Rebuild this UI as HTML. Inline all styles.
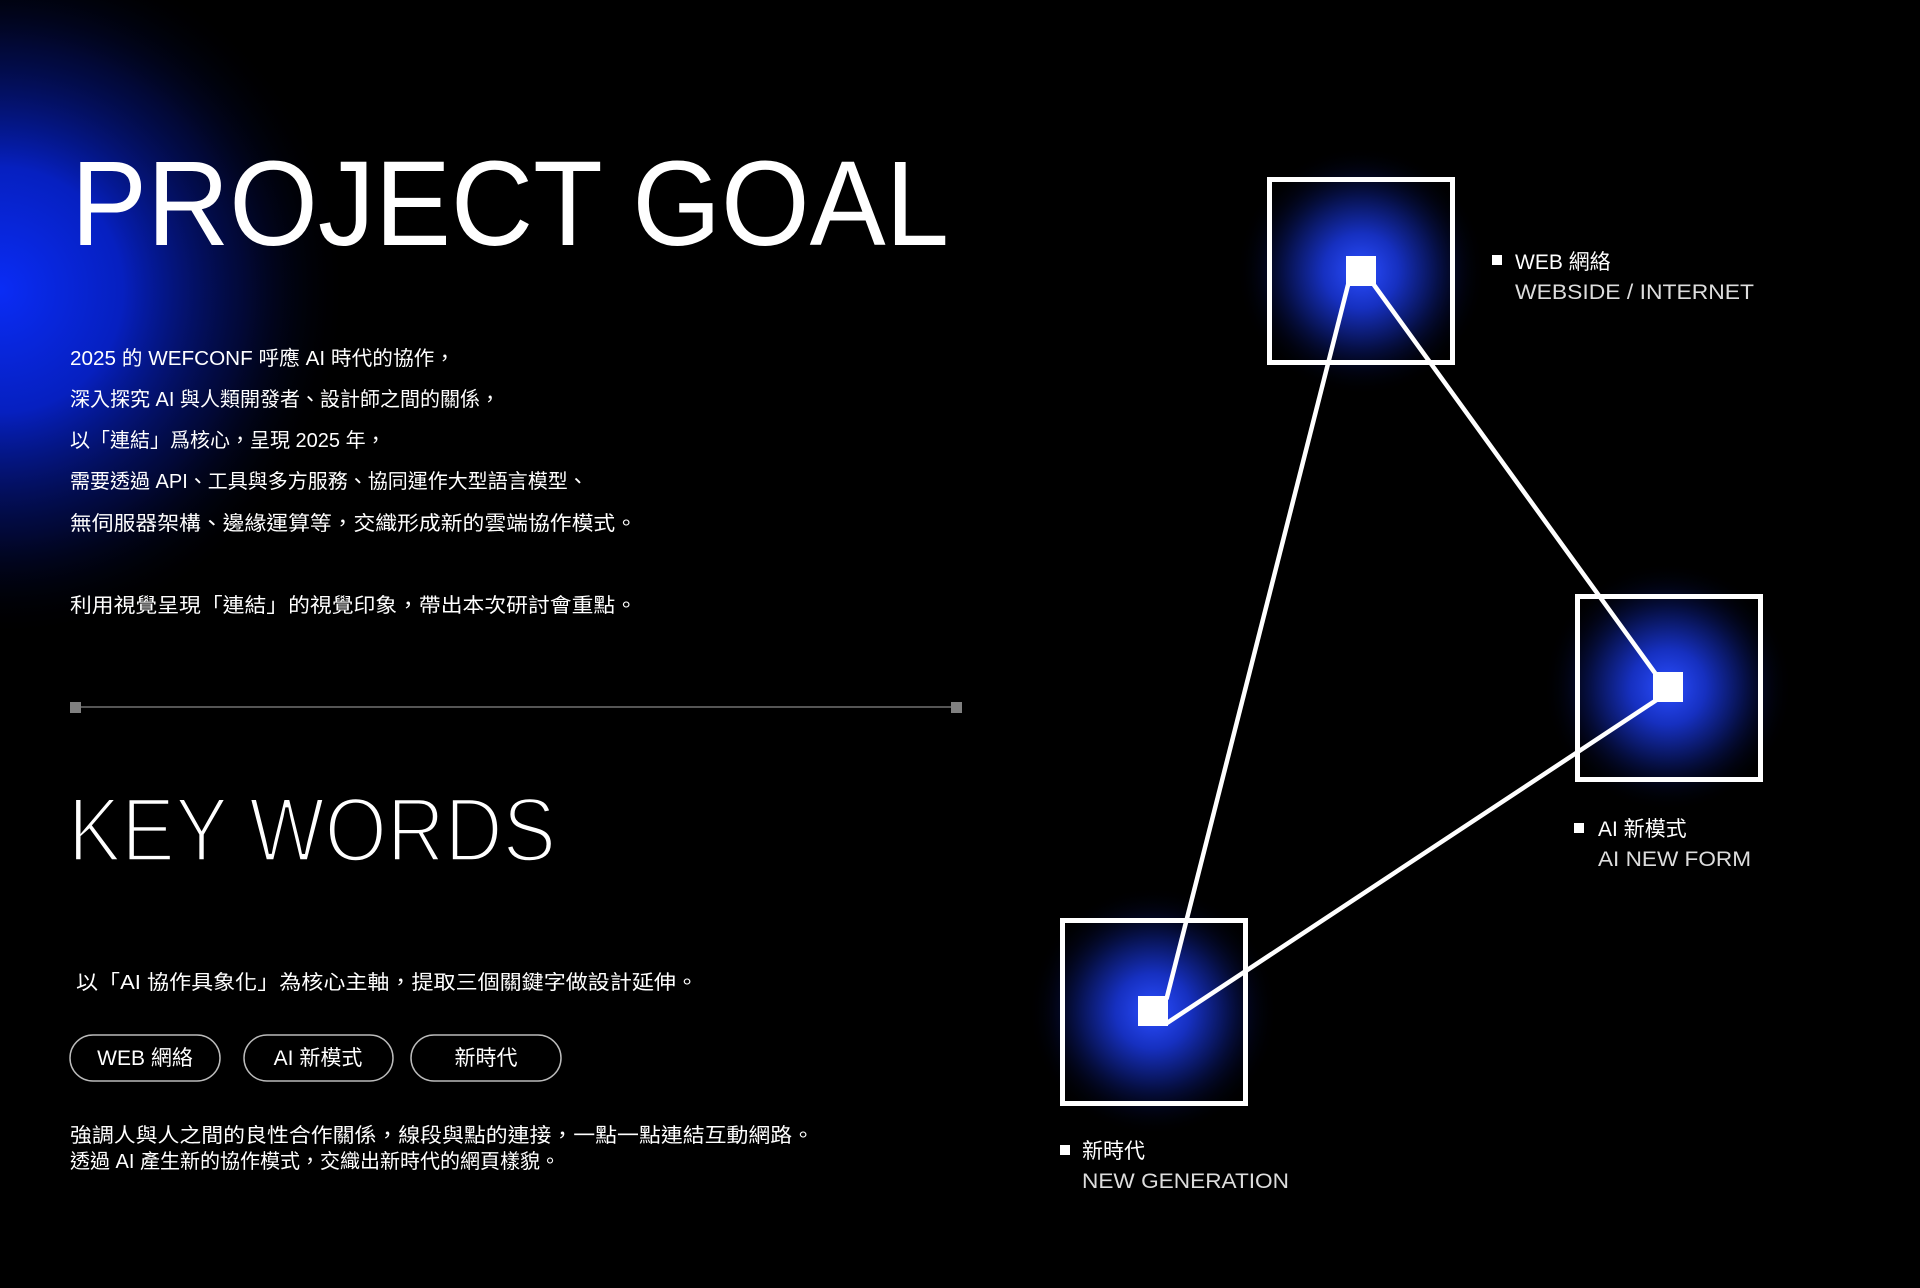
<!DOCTYPE html>
<html><head><meta charset="utf-8"><style>
html,body{margin:0;padding:0;background:#000;}
svg{display:block}
.cjk{font-family:"Liberation Sans","Noto Sans CJK TC",sans-serif;}
</style></head><body>
<svg width="1920" height="1288" viewBox="0 0 1920 1288" xmlns="http://www.w3.org/2000/svg" class="cjk">
<defs>
<radialGradient id="bg" cx="0" cy="290" r="350" gradientUnits="userSpaceOnUse">
<stop offset="0" stop-color="#0a2cf5"/>
<stop offset="0.35" stop-color="#0620c0"/>
<stop offset="0.7" stop-color="#030e5a" stop-opacity="0.6"/>
<stop offset="1" stop-color="#000" stop-opacity="0"/>
</radialGradient>
<radialGradient id="g" cx="0.5" cy="0.5" r="0.5">
<stop offset="0" stop-color="#2a4dff"/>
<stop offset="0.3" stop-color="#1630c0"/>
<stop offset="0.6" stop-color="#07124f"/>
<stop offset="0.8" stop-color="#020620" stop-opacity="0.6"/>
<stop offset="1" stop-color="#000" stop-opacity="0"/>
</radialGradient>
</defs>
<rect width="1920" height="1288" fill="#000"/>
<rect x="0" y="0" width="420" height="680" fill="url(#bg)"/>

<text x="71" y="245" font-size="121" fill="#fff" textLength="878" lengthAdjust="spacingAndGlyphs">PROJECT GOAL</text>

<g font-size="20" fill="#fff">
<text x="70" y="365" textLength="385" lengthAdjust="spacingAndGlyphs">2025 的 WEFCONF 呼應 AI 時代的協作，</text>
<text x="70" y="406">深入探究 AI 與人類開發者、設計師之間的關係，</text>
<text x="70" y="447">以「連結」爲核心，呈現 2025 年，</text>
<text x="70" y="488">需要透過 API、工具與多方服務、協同運作大型語言模型、</text>
<text x="70" y="530" textLength="567" lengthAdjust="spacingAndGlyphs">無伺服器架構、邊緣運算等，交織形成新的雲端協作模式。</text>
<text x="70" y="612" textLength="567" lengthAdjust="spacingAndGlyphs">利用視覺呈現「連結」的視覺印象，帶出本次研討會重點。</text>
</g>

<line x1="75" y1="707" x2="955" y2="707" stroke="#555" stroke-width="2"/>
<rect x="70" y="702" width="11" height="11" fill="#808080"/>
<rect x="951" y="702" width="11" height="11" fill="#808080"/>

<text x="68" y="861" font-size="91" fill="#fff" stroke="#000" stroke-width="3.5" textLength="488" lengthAdjust="spacingAndGlyphs">KEY WORDS</text>

<text x="76" y="989" font-size="20" fill="#fff" textLength="622" lengthAdjust="spacingAndGlyphs">以「AI 協作具象化」為核心主軸，提取三個關鍵字做設計延伸。</text>

<g fill="none" stroke="#bbb" stroke-width="1.5">
<rect x="70" y="1035" width="150" height="46" rx="23"/>
<rect x="244" y="1035" width="149" height="46" rx="23"/>
<rect x="411" y="1035" width="150" height="46" rx="23"/>
</g>
<g font-size="21" fill="#fff" text-anchor="middle">
<text x="145" y="1065">WEB 網絡</text>
<text x="318" y="1065">AI 新模式</text>
<text x="486" y="1065">新時代</text>
</g>

<g font-size="20" fill="#fff">
<text x="70" y="1142" textLength="744" lengthAdjust="spacingAndGlyphs">強調人與人之間的良性合作關係，線段與點的連接，一點一點連結互動網路。</text>
<text x="70" y="1168">透過 AI 產生新的協作模式，交織出新時代的網頁樣貌。</text>
</g>

<!-- glows -->
<circle cx="1361" cy="271" r="125" fill="url(#g)"/>
<circle cx="1668" cy="687" r="125" fill="url(#g)"/>
<circle cx="1153" cy="1011" r="125" fill="url(#g)"/>

<g fill="none" stroke="#fff" stroke-width="5">
<rect x="1269.5" y="179.5" width="183" height="183"/>
<rect x="1577.5" y="596.5" width="183" height="183"/>
<rect x="1062.5" y="920.5" width="183" height="183"/>
</g>
<g stroke="#fff" stroke-width="4.5" stroke-linecap="square">
<line x1="1348" y1="285" x2="1167" y2="997"/>
<line x1="1374" y1="285" x2="1655" y2="673"/>
<line x1="1655" y1="701" x2="1167" y2="1023"/>
</g>
<g fill="#fff">
<rect x="1346" y="256" width="30" height="30"/>
<rect x="1653" y="672" width="30" height="30"/>
<rect x="1138" y="996" width="30" height="30"/>
</g>

<g font-size="21" fill="#fff">
<rect x="1492" y="255" width="10" height="10"/>
<text x="1515" y="269">WEB 網絡</text>
<text x="1515" y="299" fill="#ddd" textLength="239" lengthAdjust="spacingAndGlyphs">WEBSIDE / INTERNET</text>
<rect x="1574" y="823" width="10" height="10"/>
<text x="1598" y="836">AI 新模式</text>
<text x="1598" y="866" fill="#ddd" textLength="153" lengthAdjust="spacingAndGlyphs">AI NEW FORM</text>
<rect x="1060" y="1145" width="10" height="10"/>
<text x="1082" y="1158">新時代</text>
<text x="1082" y="1188" fill="#ddd" textLength="207" lengthAdjust="spacingAndGlyphs">NEW GENERATION</text>
</g>
</svg>
</body></html>
